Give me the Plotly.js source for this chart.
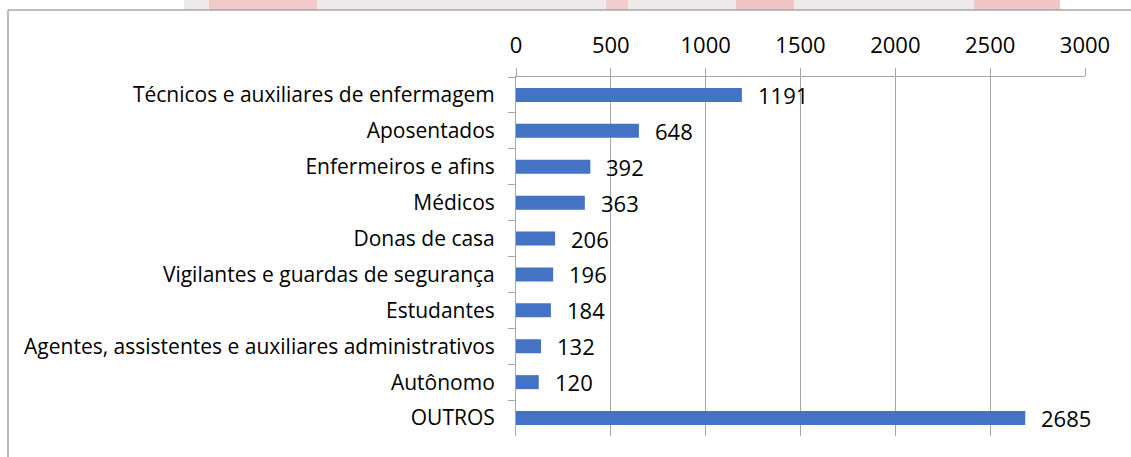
<!DOCTYPE html>
<html>
<head>
<meta charset="utf-8">
<script src="https://cdn.plot.ly/plotly-3.0.1.min.js"></script>
<style>
html,body{margin:0;padding:0;background:#fff;}
#chart{width:1131px;height:457px;}
</style>
</head>
<body>
<div id="chart"></div>
<script>
const categories = [
  "Técnicos e auxiliares de enfermagem",
  "Aposentados",
  "Enfermeiros e afins",
  "Médicos",
  "Donas de casa",
  "Vigilantes e guardas de segurança",
  "Estudantes",
  "Agentes, assistentes e auxiliares administrativos",
  "Autônomo",
  "OUTROS"
];
const values = [1191, 648, 392, 363, 206, 196, 184, 132, 120, 2685];
const tickValues = [0, 500, 1000, 1500, 2000, 2500, 3000];

const W = 1131, H = 457;
const M = {l: 516, r: 46, t: 77, b: 21};
const pw = W - M.l - M.r, ph = H - M.t - M.b;
const px = x => (x - M.l) / pw;
const py = y => 1 - (y - M.t) / ph;

const fontFam = '"Open Sans", Lato, sans-serif';
const gridCol = '#a6a6a6';

// decorative background strip above the chart frame
const deco = [
  [184, 1060, '#eeeaea'],
  [209, 317, '#f1c9c9'],
  [606, 628, '#f2cccc'],
  [736, 794, '#f0c4c4'],
  [974, 1060, '#f0c6c6']
];
const shapes = deco.map(d => ({
  type: 'rect', xref: 'paper', yref: 'paper', layer: 'below',
  x0: px(d[0]), x1: px(d[1]), y0: py(10), y1: py(0),
  fillcolor: d[2], line: {width: 0}
}));
// outer frame
shapes.push({type: 'line', xref: 'paper', yref: 'paper', x0: px(8), x1: px(1131), y0: py(10), y1: py(10), line: {color: gridCol, width: 1.5}});
shapes.push({type: 'line', xref: 'paper', yref: 'paper', x0: px(8), x1: px(8), y0: py(10), y1: py(457), line: {color: gridCol, width: 1.5}});

const annotations = categories.map((c, i) => ({
  x: values[i], y: c, xref: 'x', yref: 'y',
  text: String(values[i]), showarrow: false,
  xanchor: 'left', yanchor: 'middle', xshift: 14, yshift: 0,
  font: {family: fontFam, size: 22, color: '#000'}
}));

const trace = {
  type: 'bar', orientation: 'h',
  x: values, y: categories,
  marker: {color: '#4472C4'},
  hoverinfo: 'x+y'
};

const layout = {
  width: W, height: H,
  margin: M,
  paper_bgcolor: '#fff', plot_bgcolor: '#fff',
  showlegend: false,
  bargap: 0.61,
  font: {family: fontFam, size: 21, color: '#000'},
  xaxis: {
    side: 'top', range: [0, 3000], tickvals: tickValues,
    showgrid: true, gridcolor: gridCol, gridwidth: 1,
    showline: true, linecolor: gridCol, linewidth: 1,
    ticks: 'outside', ticklen: 8, tickcolor: gridCol,
    ticklabelstandoff: 6,
    zeroline: false, fixedrange: true,
    tickfont: {family: fontFam, size: 22, color: '#000'}
  },
  yaxis: {
    type: 'category', autorange: 'reversed',
    showgrid: false, zeroline: false,
    showline: true, linecolor: gridCol, linewidth: 1,
    ticks: 'outside', ticklen: 7, tickcolor: gridCol, tickson: 'boundaries',
    ticklabelstandoff: 16,
    tickfont: {family: fontFam, size: 21, color: '#000'}
  },
  shapes: shapes,
  annotations: annotations
};

Plotly.newPlot('chart', [trace], layout, {displayModeBar: false, staticPlot: true});
</script>
</body>
</html>
